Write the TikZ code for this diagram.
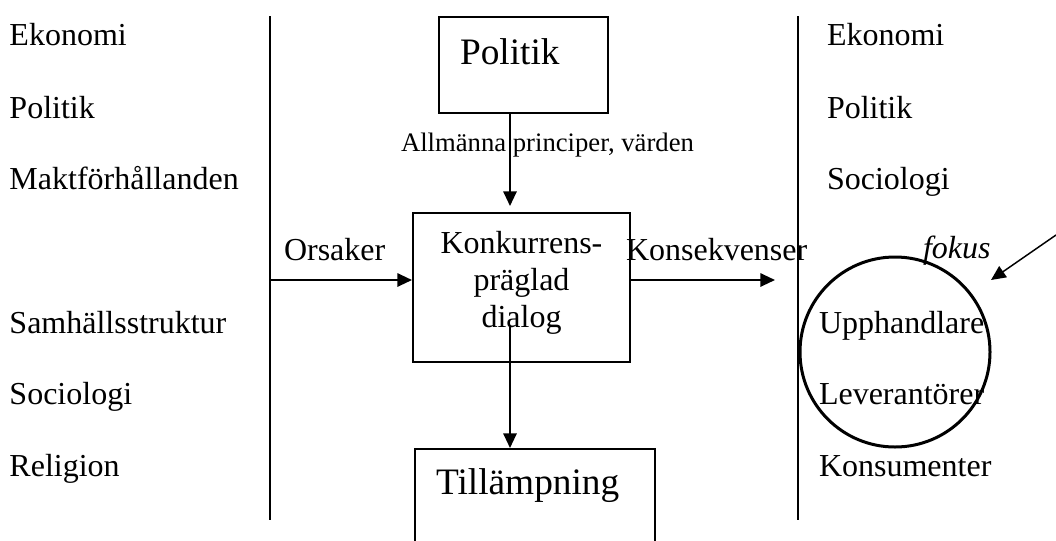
\documentclass[tikz,border=0pt]{standalone}
\usepackage{fontspec}
\setmainfont{Liberation Serif}
\usepackage{tikz}
\usetikzlibrary{calc, arrows.meta, shapes}
\tikzset{>={Triangle[length=11pt, width=10pt]}}
\tikzset{
	txt/.style = {anchor = base west, inner sep = 0, font = \fontsize{24}{28}\selectfont},
	box/.style = {draw, rectangle, line width = 1.5pt, inner ysep = 0},
}

\begin{document}
\begin{tikzpicture}[x = 0.75pt, y = -0.75pt, line width = 1.5pt]
\useasboundingbox (0, 0) rectangle (1056, 540);
\clip (0, 0) rectangle (1056, 540);

% the two columns of factors
\foreach \y / \t [count = \i] in {45/Ekonomi, 118/Politik, 189/Maktförhållanden, 333/Samhällsstruktur, 404/Sociologi, 476/Religion}{
	\node[txt] (left\i) at (8.5, \y) {\t};
}
\foreach \x / \y / \t [count = \i] in {826/45/Ekonomi, 826/118/Politik, 826/189/Sociologi, 818/333/Upphandlare, 818/404/Leverantörer, 818/476/Konsumenter}{
	\node[txt] (right\i) at (\x, \y) {\t};
}
\draw (270, 16) -- (270, 520);
\draw (798, 16) -- (798, 520);

% boxes
\node[box, anchor = north west, minimum width = 126.75pt, minimum height = 72pt, inner xsep = 15.75pt,
	text width = 95.25pt, align = left, text height = 19.1pt, text depth = 20.6pt,
	font = \fontsize{28}{33}\selectfont] (politik) at (438, 16) {Politik};
\node[box, minimum width = 162.75pt, minimum height = 111.75pt, align = center,
	text height = 71.9pt, text depth = 12.65pt,
	font = \fontsize{24}{27.75}\selectfont] (dialog) at (521.5, 287.5) {Konkurrens-\\präglad\\dialog};
\node[box, anchor = north west, minimum width = 180pt, minimum height = 72pt, inner xsep = 15.75pt,
	text width = 148.5pt, align = left, text height = 19.1pt, text depth = 23.6pt,
	font = \fontsize{28}{33}\selectfont] (till) at (414, 448) {Tillämpning};
\node[draw, circle, line width = 2.25pt, minimum size = 142.5pt, inner sep = 0] (ring) at (895, 352) {};

% labels
\node[anchor = base, inner sep = 0, font = \fontsize{20}{24}\selectfont] (values) at (547.5, 151) {Allmänna principer, värden};
\node[txt] (causes) at (283, 260) {Orsaker};
\node[txt] (effects) at (625, 260) {Konsekvenser};
\node[txt, font = \fontsize{24}{28}\selectfont\itshape] (focus) at (922, 258) {fokus};

% arrows
\coordinate (stem) at (510, 327);
\coordinate (cause) at (270, 280);
\coordinate (effect) at (775, 280);
\coordinate (edge) at (1056, 235);
\coordinate (aim) at (991, 280);
\draw[->, shorten > = 4.5pt] (politik.south -| stem) -- (dialog.north -| stem);
\draw[->] (stem) -- (stem |- till.north);
\draw[->] (cause) -- (cause -| dialog.west);
\draw[->] (cause -| dialog.east) -- (effect);
\draw[->, line width = 1.1pt] (edge) -- (aim);

\end{tikzpicture}
\end{document}
